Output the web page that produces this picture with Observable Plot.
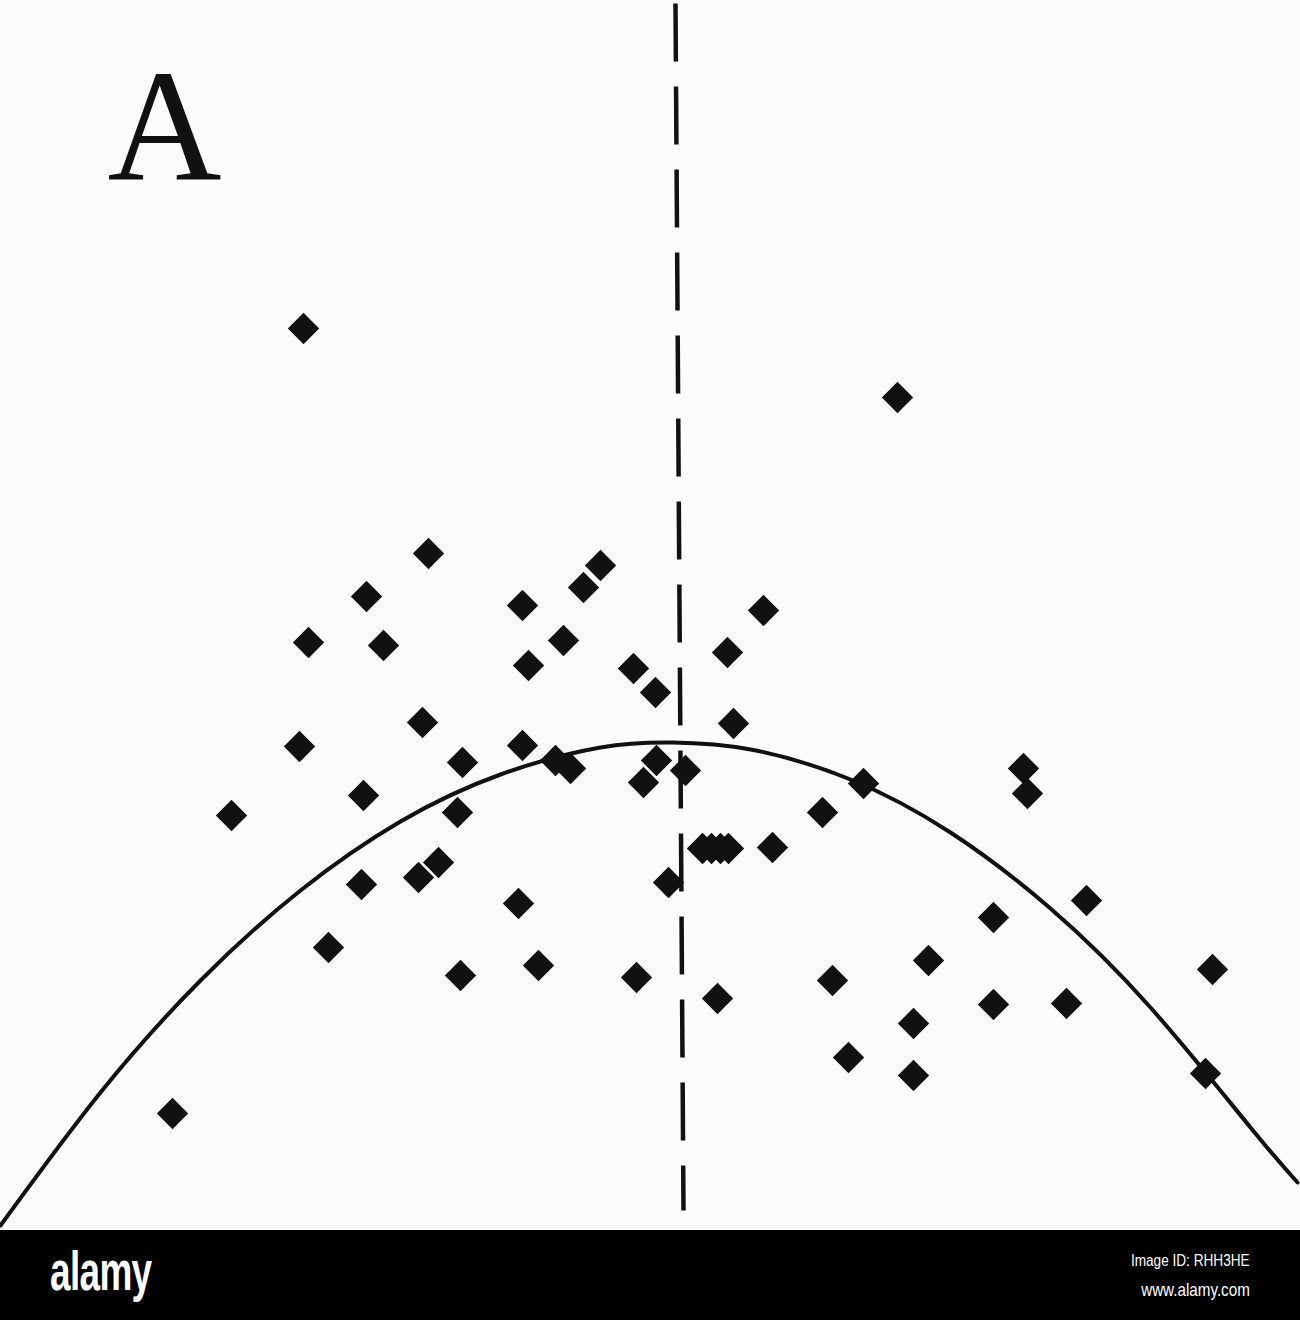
<!DOCTYPE html>
<html>
<head>
<meta charset="utf-8">
<script src="https://cdn.jsdelivr.net/npm/d3@7"></script>
<script src="https://cdn.jsdelivr.net/npm/@observablehq/plot@0.6"></script>
<style>
  html, body { margin: 0; padding: 0; background: #fdfcfc; }
  #chart svg { display: block; }
  #band { position: relative; width: 1300px; height: 90px; background: #000; overflow: hidden; }
  #logo { position: absolute; left: 50px; top: 8px; color: #fff; font-family: "Liberation Sans", Arial, sans-serif; font-weight: bold; font-size: 56px; letter-spacing: -1px; transform: scaleX(0.66); transform-origin: left top; }
  #imgid { position: absolute; right: 50px; top: 22px; color: #fff; font-family: "Liberation Sans", Arial, sans-serif; font-size: 16px; transform: scaleX(0.85); transform-origin: right top; }
  #www { position: absolute; right: 50px; top: 49px; color: #fff; font-family: "Liberation Sans", Arial, sans-serif; font-size: 19px; transform: scaleX(0.8); transform-origin: right top; }
</style>
</head>
<body>
<div id="chart"></div>
<div id="band"><span id="logo">alamy</span><span id="imgid">Image ID: RHH3HE</span><span id="www">www.alamy.com</span></div>
<script>
// Panel label
const panelLabel = ["A"];

// Scatter points (x, y)
const pointX = [3.03, 8.97, 4.28, 5.83, 6.00, 3.66, 5.22, 7.63, 3.08, 3.83,
                5.63, 5.28, 6.33, 6.55, 7.27, 4.22, 2.99, 5.22, 4.62, 7.33,
                5.55, 5.70, 6.43, 6.56, 6.85, 3.63, 2.31, 4.57, 8.22, 8.63,
                10.23, 10.27, 7.02, 7.11, 7.20, 7.28, 7.72, 4.18, 4.38, 3.61,
                6.68, 5.18, 9.93, 10.86, 3.28, 4.60, 5.38, 6.36, 7.17, 8.32,
                9.28, 12.12, 9.93, 10.66, 9.13, 8.48, 9.13, 12.05, 1.72];
const pointY = [9.02, 8.33, 6.77, 6.43, 6.65, 6.34, 6.25, 6.20, 5.88, 5.85,
                5.90, 5.65, 5.62, 5.38, 5.78, 5.08, 4.84, 4.85, 4.68, 5.07,
                4.70, 4.62, 4.48, 4.70, 4.60, 4.35, 4.15, 4.18, 4.18, 4.47,
                4.62, 4.37, 3.82, 3.82, 3.82, 3.82, 3.83, 3.53, 3.68, 3.46,
                3.48, 3.27, 3.13, 3.30, 2.83, 2.55, 2.65, 2.53, 2.32, 2.50,
                2.70, 2.61, 2.26, 2.27, 2.07, 1.73, 1.55, 1.57, 1.17];

// Fitted curve
const curveX = [0.00, 1.00, 2.00, 3.00, 4.00, 5.00, 6.00, 6.72, 7.50, 8.50, 9.50, 10.50, 11.50, 12.50, 12.97];
const curveY = [0.05, 1.38, 2.50, 3.40, 4.09, 4.56, 4.83, 4.88, 4.81, 4.51, 3.98, 3.22, 2.23, 1.03, 0.48];

// Dashed reference line (top and bottom ends)
const dashX = [6.75, 6.83];
const dashY = [12.27, 0.20];

const points = pointX.map((x, i) => ({x, y: pointY[i]}));
const curve = curveX.map((x, i) => ({x, y: curveY[i]}));
const dash = [{x1: dashX[0], y1: dashY[0], x2: dashX[1], y2: dashY[1]}];

const chart = Plot.plot({
  width: 1300,
  height: 1230,
  margin: 0,
  x: {domain: [0, 13], axis: null},
  y: {domain: [0, 12.3], axis: null},
  style: {background: "#fdfcfc"},
  marks: [
    Plot.link(dash, {x1: "x1", y1: "y1", x2: "x2", y2: "y2", stroke: "#111", strokeWidth: 4.5, strokeDasharray: "58,25"}),
    Plot.line(curve, {x: "x", y: "y", curve: "natural", stroke: "#111", strokeWidth: 4}),
    Plot.dot(points, {x: "x", y: "y", symbol: "square", rotate: 45, r: 12.5, fill: "#111", stroke: "none"}),
    Plot.text(panelLabel, {text: d => d, frameAnchor: "top-left", dx: 107, dy: 178, textAnchor: "start", lineAnchor: "bottom", fontSize: 158, fontFamily: "Liberation Serif, Times New Roman, serif", fill: "#111"})
  ]
});
document.getElementById("chart").append(chart);
</script>
</body>
</html>
